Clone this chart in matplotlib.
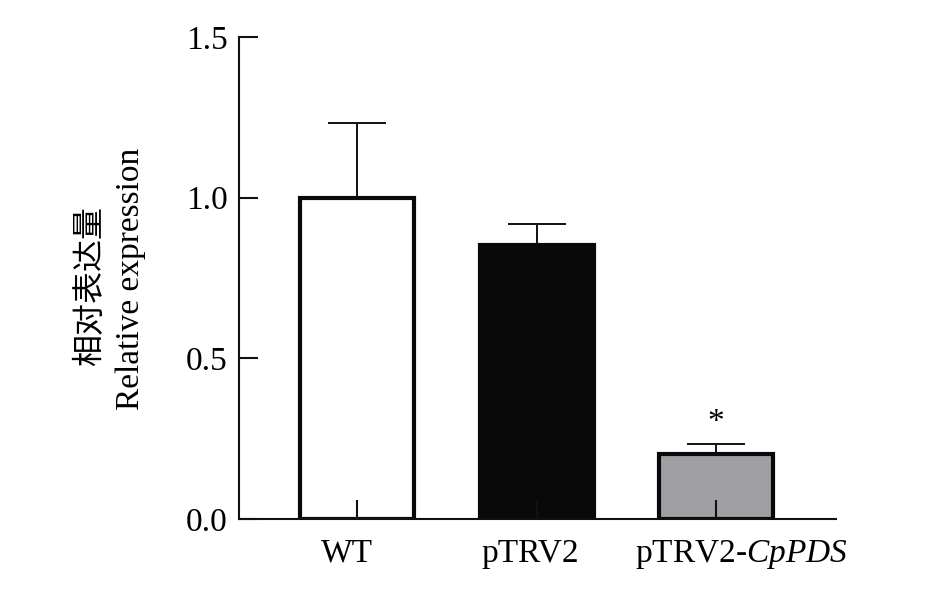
import matplotlib
matplotlib.use('Agg')
import matplotlib.pyplot as plt
import matplotlib.transforms as mtransforms
import numpy as np

plt.rcParams['font.family'] = ['Liberation Serif', 'Noto Sans CJK SC']
plt.rcParams['font.size'] = 24
plt.rcParams['mathtext.fontset'] = 'custom'
plt.rcParams['mathtext.rm'] = 'Liberation Serif'
plt.rcParams['mathtext.it'] = 'Liberation Serif:italic'

# data
groups = ['WT', 'pTRV2', r'pTRV2-$\it{CpPDS}$']
expression = [1.0, 0.853, 0.202]
sem = [0.232, 0.065, 0.031]
bar_colors = ['white', '#0a0909', '#a09fa4']
yticks = [0.0, 0.5, 1.0, 1.5]

fig = plt.figure(figsize=(9.25, 5.9), dpi=100)
ax = fig.add_axes([0.2584, 0.1203, 0.6454, 0.817])

x = np.arange(len(groups))
ax.errorbar(x, expression, yerr=[np.zeros(len(sem)), sem], fmt='none',
            ecolor='#111111', elinewidth=1.4, capsize=21, capthick=1.4, zorder=1)
ax.bar(x, expression, width=0.635, color=bar_colors, edgecolor='#0a0909',
       linewidth=3, zorder=2)

ax.text(2, 0.30, '*', ha='center', va='center', fontsize=24)

ax.set_xlim(-0.657, 2.668)
ax.set_ylim(0, 1.5)
ax.set_yticks(yticks)
ax.set_yticklabels(['%.1f' % v for v in yticks])
ax.set_xticks(x)
ax.set_xticklabels(groups)
ax.set_axisbelow(False)

for s in ['top', 'right']:
    ax.spines[s].set_visible(False)
for s in ['left', 'bottom']:
    ax.spines[s].set_linewidth(1.5)
    ax.spines[s].set_color('#111111')
ax.tick_params(axis='both', direction='in', length=13.5, width=1.5, color='#111111')
ax.tick_params(axis='y', pad=8)
ax.tick_params(axis='x', pad=14)

# the labels in the original are not quite centred under the bars
for lab, dx in zip(ax.get_xticklabels(), [-10, -6, 25]):
    lab.set_transform(lab.get_transform() +
                      mtransforms.ScaledTranslation(dx / 100, 0, fig.dpi_scale_trans))

fig.text(90 / 925, 1 - 286 / 590, '相对表达量', rotation=90, ha='center', va='center',
         fontsize=23, family=['Noto Sans CJK SC'], fontweight='light')
fig.text(131 / 925, 1 - 279 / 590, 'Relative expression', rotation=90, ha='center',
         va='center', fontsize=24)

fig.savefig('out.png', dpi=100)
